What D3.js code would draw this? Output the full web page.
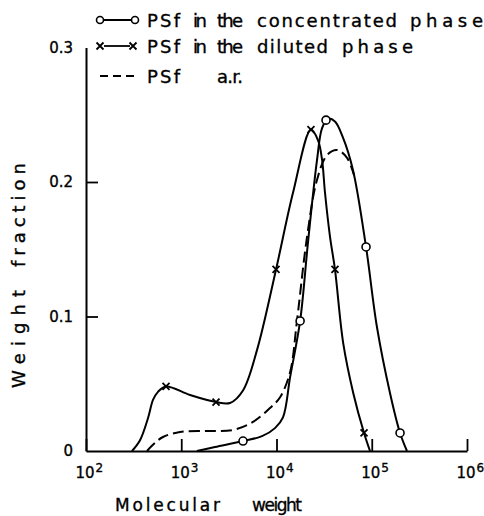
<!DOCTYPE html>
<html><head><meta charset="utf-8">
<script src="https://cdn.jsdelivr.net/npm/d3@7"></script>
<style>
html,body{margin:0;padding:0;background:#fff;}
svg{display:block;}
text{font-family:"DejaVu Sans",sans-serif;fill:#000;stroke:#000;stroke-width:0.35px;}
</style></head>
<body>
<script>
// ---- data ----
const concMW = [1460,2260,4450,7050,9640,11700,13900,17700,21400,26600,30100,34800,41100,49900,63500,87100,113500,155600,198200,234400];
const concW  = [0,0.003,0.0074,0.011,0.017,0.025,0.055,0.0967,0.155,0.216,0.240,0.247,0.245,0.233,0.209,0.1517,0.092,0.043,0.0134,0];
const concMarkMW = [4450,17700,33100,87100,198200];
const concMarkW  = [0.0074,0.0967,0.246,0.1517,0.0134];

const dilMW = [304,369,448,505,570,692,1236,2317,3250,4450,6240,9890,14900,23000,27300,30100,32300,36500,41100,50200,64000,83000,95900];
const dilW  = [0,0.008,0.0245,0.038,0.044,0.048,0.0416,0.0364,0.0357,0.045,0.075,0.135,0.192,0.239,0.231,0.2164,0.192,0.159,0.135,0.080,0.043,0.0134,0];
const dilMarkMW = [692,2317,9890,23000,41100,83000];
const dilMarkW  = [0.048,0.0364,0.135,0.239,0.135,0.0134];

const arMW = [437,530,643,970,1862,3490,5660,8550,10900,13900,16400,20900,26600,33900,43200,55000,65200];
const arW  = [0,0.006,0.0104,0.0141,0.0149,0.0156,0.0216,0.032,0.040,0.0587,0.0967,0.159,0.2015,0.220,0.2238,0.218,0.205];

const xTicks = [1e2,1e3,1e4,1e5,1e6];
const xTickExp = ["2","3","4","5","6"];
const yTicks = [0,0.1,0.2,0.3];
const yTickLabels = ["0","0.1","0.2","0.3"];
const legendLabels = ["PSf in the concentrated phase","PSf in the diluted phase","PSf a.r."];
const xTitle = "Molecular weight";
const yTitle = "Weight fraction";

// ---- layout (word placement) ----
const legendWordX = [[147,193,217,257,410],[147,193,217,257,342],[147,217]];
const legendWordLen = [[33,14,26,140,73],[33,14,26,71,71],[33,26]];
const xTitleWordX = [115,252], xTitleWordLen = [105,50];
const yTitleWordPos = [388,267], yTitleWordLen = [98,104]; // along-axis start (from bottom)

// ---- chart ----
const W = 484, H = 516;
const svg = d3.select("body").append("svg").attr("width",W).attr("height",H);
const x = d3.scaleLog().domain([1e2,1e6]).range([86,467]);
const y = d3.scaleLinear().domain([0,0.3]).range([451,47.5]);

// x axis
const gx = svg.append("g").attr("transform",`translate(0,${y(0)})`)
  .call(d3.axisBottom(x).tickValues(xTicks).tickSize(-12).tickSizeOuter(0).tickFormat(""));
gx.select(".domain").attr("stroke","#000").attr("stroke-width",2);
gx.selectAll(".tick line").attr("stroke","#000").attr("stroke-width",1.8);
gx.selectAll(".tick").each(function(d,i){
  d3.select(this).append("text").attr("x",8).attr("y",27)
    .attr("text-anchor","end").style("font-size","15px").text("10");
  d3.select(this).append("text").attr("x",9).attr("y",21)
    .attr("text-anchor","start").style("font-size","12px").text(xTickExp[i]);
});

// y axis
const gy = svg.append("g").attr("transform",`translate(${x(1e2)},0)`)
  .call(d3.axisLeft(y).tickValues(yTicks).tickSize(-12).tickSizeOuter(0)
        .tickFormat((d,i)=>yTickLabels[i]));
gy.select(".domain").attr("stroke","#000").attr("stroke-width",2);
gy.selectAll(".tick line").attr("stroke","#000").attr("stroke-width",1.8)
  .attr("display",d=> (d===0||d===0.3)?"none":null);
gy.selectAll(".tick text").attr("x",-13).style("font-size","15px")
  .style("font-family","DejaVu Sans").attr("fill","#000");

// titles
xTitle.split(" ").forEach((w,i)=>{
  svg.append("text").attr("x",xTitleWordX[i]).attr("y",511).style("font-size","17px")
    .attr("textLength",xTitleWordLen[i]).attr("lengthAdjust","spacing").text(w);
});
yTitle.split(" ").forEach((w,i)=>{
  svg.append("text").attr("transform",`translate(25,${yTitleWordPos[i]}) rotate(-90)`)
    .style("font-size","18px").attr("textLength",yTitleWordLen[i]).attr("lengthAdjust","spacing").text(w);
});

// curves
const line = d3.line().curve(d3.curveCatmullRom.alpha(0.5)).x(d=>x(d[0])).y(d=>y(d[1]));
const zip = (a,b)=>a.map((v,i)=>[v,b[i]]);
svg.append("path").datum(zip(concMW,concW)).attr("d",line)
  .attr("fill","none").attr("stroke","#000").attr("stroke-width",2);
svg.append("path").datum(zip(dilMW,dilW)).attr("d",line)
  .attr("fill","none").attr("stroke","#000").attr("stroke-width",2);
svg.append("path").datum(zip(arMW,arW)).attr("d",line)
  .attr("fill","none").attr("stroke","#000").attr("stroke-width",2).attr("stroke-dasharray","11,5");

// markers
svg.selectAll(".cm").data(zip(concMarkMW,concMarkW)).enter().append("circle")
  .attr("cx",d=>x(d[0])).attr("cy",d=>y(d[1])).attr("r",4)
  .attr("fill","#fff").attr("stroke","#000").attr("stroke-width",1.6);
const xm = svg.selectAll(".xm").data(zip(dilMarkMW,dilMarkW)).enter().append("g")
  .attr("transform",d=>`translate(${x(d[0])},${y(d[1])})`);
xm.append("path").attr("d","M-3.5,-3.5L3.5,3.5M-3.5,3.5L3.5,-3.5")
  .attr("stroke","#000").attr("stroke-width",1.8);

// legend
const lg = svg.append("g");
const lgY = [20,46,76];
lg.append("line").attr("x1",100).attr("x2",135).attr("y1",lgY[0]).attr("y2",lgY[0]).attr("stroke","#000").attr("stroke-width",1.8);
[100,135].forEach(cx=>lg.append("circle").attr("cx",cx).attr("cy",lgY[0]).attr("r",3.5)
  .attr("fill","#fff").attr("stroke","#000").attr("stroke-width",1.6));
lg.append("line").attr("x1",104).attr("x2",130).attr("y1",lgY[1]).attr("y2",lgY[1]).attr("stroke","#000").attr("stroke-width",1.8);
[100,133].forEach(cx=>lg.append("path").attr("d",`M${cx-3.5},${lgY[1]-3.5}L${cx+3.5},${lgY[1]+3.5}M${cx-3.5},${lgY[1]+3.5}L${cx+3.5},${lgY[1]-3.5}`)
  .attr("stroke","#000").attr("stroke-width",1.8));
lg.append("line").attr("x1",100).attr("x2",134).attr("y1",lgY[2]).attr("y2",lgY[2]).attr("stroke","#000")
  .attr("stroke-width",2).attr("stroke-dasharray","8,5");
legendLabels.forEach((t,i)=>{
  t.split(" ").forEach((w,j)=>{
    lg.append("text").attr("x",legendWordX[i][j]).attr("y",lgY[i]+7).style("font-size","18px")
      .attr("textLength",legendWordLen[i][j]).attr("lengthAdjust","spacing").text(w);
  });
});
</script>
</body></html>
